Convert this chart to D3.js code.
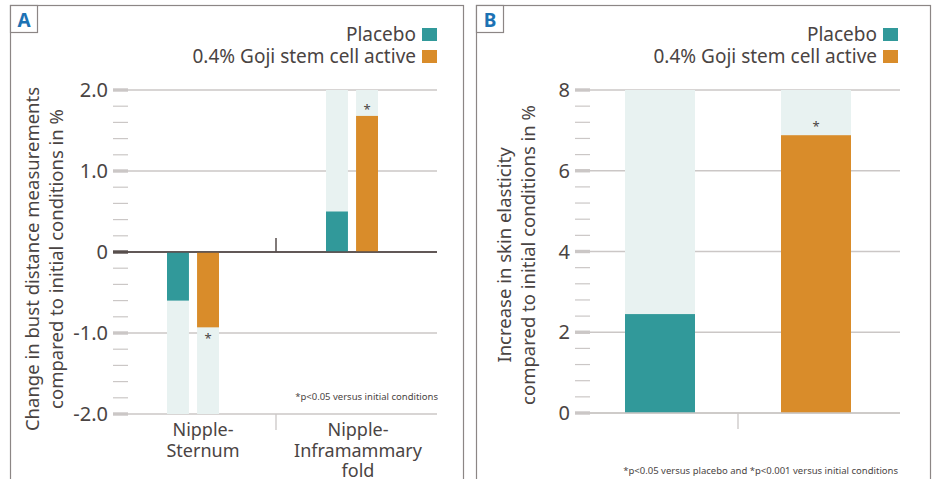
<!DOCTYPE html>
<html>
<head>
<meta charset="utf-8">
<script src="https://cdn.jsdelivr.net/npm/d3@7"></script>
<style>
  body { margin: 0; background: #fff; }
  svg text { font-family: "Noto Sans", "Open Sans", sans-serif; fill: #4a4443; }
</style>
</head>
<body>
<svg id="chart" width="938" height="479"></svg>
<script>
// ---- data ----
const seriesNames = ["Placebo", "0.4% Goji stem cell active"];
const seriesColors = ["#31999a", "#d98c2a"];

// Panel A: change in bust distance measurements (%)
const catsA = [["Nipple-", "Sternum"], ["Nipple-", "Inframammary", "fold"]];
const placeboA = [-0.6, 0.5];
const gojiA = [-0.93, 1.68];
const sigA = [[false, true], [false, true]];
const ticksA = [2, 1, 0, -1, -2];
const tickLabelsA = ["2.0", "1.0", "0", "-1.0", "-2.0"];
const footA = "*p<0.05 versus initial conditions";
const titleA = ["Change in bust distance measurements", "compared to initial conditions in %"];

// Panel B: increase in skin elasticity (%)
const catsB = ["Placebo", "Goji"];
const valuesB = [2.45, 6.88];
const sigB = [false, true];
const ticksB = [8, 6, 4, 2, 0];
const tickLabelsB = ["8", "6", "4", "2", "0"];
const footB = "*p<0.05 versus placebo and *p<0.001 versus initial conditions";
const titleB = ["Increase in skin elasticity", "compared to initial conditions in %"];

const svg = d3.select("#chart");
const GRID = "#cbc7c6", BG = "#e8f2f1", BORDER = "#8c8685", DARK = "#574e4c";

function panelFrame(x0, x1, letter) {
  svg.append("rect").attr("x", x0 + 0.5).attr("y", 5.5).attr("width", x1 - x0)
    .attr("height", 480).attr("fill", "none").attr("stroke", BORDER).attr("stroke-width", 1.2);
  svg.append("rect").attr("x", x0 + 0.5).attr("y", 5.5).attr("width", 27).attr("height", 27)
    .attr("fill", "#fff").attr("stroke", BORDER).attr("stroke-width", 1.2);
  svg.append("text").attr("x", x0 + 14).attr("y", 27).attr("text-anchor", "middle")
    .style("font-weight", "bold").style("font-size", "19px").style("fill", "#1c72b4")
    .text(letter);
}

function legend(rightX) {
  seriesNames.forEach((name, i) => {
    const y = 28 + i * 22;
    svg.append("rect").attr("x", rightX - 15).attr("y", y).attr("width", 15).attr("height", 13)
      .attr("fill", seriesColors[i]);
    svg.append("text").attr("x", rightX - 21).attr("y", y + 13).attr("text-anchor", "end")
      .style("font-size", "19px").text(name);
  });
}

function yAxis(y, tickX, values, labels, minorStep, gridX1, zeroDark) {
  const [lo, hi] = d3.extent(y.domain());
  const minors = d3.range(lo, hi + minorStep / 2, minorStep)
    .filter(v => !values.some(m => Math.abs(m - v) < 1e-6));
  // minor ticks
  svg.append("g").selectAll("line").data(minors).join("line")
    .attr("x1", tickX).attr("x2", tickX + 15)
    .attr("y1", d => y(d)).attr("y2", d => y(d))
    .attr("stroke", GRID).attr("stroke-width", 1.2);
  // grid lines
  svg.append("g").selectAll("line").data(values).join("line")
    .attr("x1", tickX + 15).attr("x2", gridX1)
    .attr("y1", d => y(d)).attr("y2", d => y(d))
    .attr("stroke", d => (zeroDark && d === 0) ? DARK : GRID)
    .attr("stroke-width", d => (zeroDark && d === 0) ? 1.6 : 1.3);
  // major ticks
  svg.append("g").selectAll("rect").data(values).join("rect")
    .attr("x", tickX).attr("width", 15).attr("y", d => y(d) - 1.7).attr("height", 3.4)
    .attr("fill", d => (zeroDark && d === 0) ? DARK : GRID);
  svg.append("g").selectAll("text").data(values).join("text")
    .attr("x", tickX - 5).attr("y", d => y(d) + 7).attr("text-anchor", "end")
    .style("font-size", "20px").text((d, i) => labels[i]);
}

function yTitle(lines, x0, cy) {
  lines.forEach((t, i) => {
    svg.append("text").attr("transform", `translate(${x0 + i * 24},${cy}) rotate(-90)`)
      .attr("text-anchor", "middle").style("font-size", "18.5px").text(t);
  });
}

// ================= Panel A =================
panelFrame(10, 463, "A");
legend(437);
const yA = d3.scaleLinear().domain([-2, 2]).range([414, 90]);
yAxis(yA, 113, ticksA, tickLabelsA, 0.2, 437, true);
yTitle(titleA, 39, 259);

const xA = d3.scaleBand().domain([0, 1]).range([120, 432]);
const groupOffsetA = [-5, -2];
const inner = d3.scaleBand().domain([0, 1]).range([-26, 26]).paddingInner(0.27);
const barsA = [];
catsA.forEach((c, ci) => {
  [placeboA[ci], gojiA[ci]].forEach((v, si) => {
    barsA.push({ ci, si, v, sig: sigA[ci][si] });
  });
});
const gA = svg.append("g");
barsA.forEach(b => {
  const x = xA(b.ci) + xA.bandwidth() / 2 + groupOffsetA[b.ci] + inner(b.si);
  const full = b.v < 0 ? -2 : 2;
  gA.append("rect").attr("x", x).attr("width", inner.bandwidth())
    .attr("y", Math.min(yA(0), yA(full))).attr("height", Math.abs(yA(full) - yA(0)))
    .attr("fill", BG);
  gA.append("rect").attr("x", x).attr("width", inner.bandwidth())
    .attr("y", Math.min(yA(0), yA(b.v))).attr("height", Math.abs(yA(b.v) - yA(0)))
    .attr("fill", seriesColors[b.si]);
  if (b.sig) {
    const ty = b.v < 0 ? yA(b.v) + 16 : yA(b.v) - 2;
    gA.append("text").attr("x", x + inner.bandwidth() / 2).attr("y", ty)
      .attr("text-anchor", "middle").style("font-size", "13px").text("*");
  }
});
// zero line drawn over the bar backgrounds
gA.append("line").attr("x1", 128).attr("x2", 437).attr("y1", yA(0)).attr("y2", yA(0))
  .attr("stroke", DARK).attr("stroke-width", 1.6);
// category separators
const sepA = xA(1);
gA.append("line").attr("x1", sepA).attr("x2", sepA).attr("y1", yA(0) - 14).attr("y2", yA(0))
  .attr("stroke", DARK).attr("stroke-width", 1.5);
gA.append("line").attr("x1", sepA).attr("x2", sepA).attr("y1", yA(-2)).attr("y2", yA(-2) + 16)
  .attr("stroke", GRID).attr("stroke-width", 1.3);
// category labels
const labelCx = [203, 358];
catsA.forEach((lines, ci) => {
  lines.forEach((t, li) => {
    svg.append("text").attr("x", labelCx[ci]).attr("y", 436 + li * 20.5)
      .attr("text-anchor", "middle").style("font-size", "18px").text(t);
  });
});
svg.append("text").attr("x", 438).attr("y", 400).attr("text-anchor", "end")
  .style("font-size", "9.5px").text(footA);

// ================= Panel B =================
panelFrame(476, 930, "B");
legend(898);
const yB = d3.scaleLinear().domain([0, 8]).range([413, 90]);
yAxis(yB, 575, ticksB, tickLabelsB, 0.4, 900, false);
yTitle(titleB, 511, 255);

const xB = d3.scaleBand().domain(catsB).range([582, 894]);
const bwB = 70;
const gB = svg.append("g");
catsB.forEach((c, i) => {
  const x = xB(c) + xB.bandwidth() / 2 - bwB / 2;
  gB.append("rect").attr("x", x).attr("width", bwB).attr("y", yB(8)).attr("height", yB(0) - yB(8))
    .attr("fill", BG);
  gB.append("rect").attr("x", x).attr("width", bwB).attr("y", yB(valuesB[i]))
    .attr("height", yB(0) - yB(valuesB[i])).attr("fill", seriesColors[i]);
  if (sigB[i]) {
    gB.append("text").attr("x", x + bwB / 2).attr("y", yB(valuesB[i]) - 4)
      .attr("text-anchor", "middle").style("font-size", "13px").text("*");
  }
});
gB.append("line").attr("x1", 590).attr("x2", 900).attr("y1", yB(0)).attr("y2", yB(0))
  .attr("stroke", GRID).attr("stroke-width", 1.3);
gB.append("line").attr("x1", xB(catsB[1])).attr("x2", xB(catsB[1]))
  .attr("y1", yB(0)).attr("y2", yB(0) + 16).attr("stroke", GRID).attr("stroke-width", 1.3);
svg.append("text").attr("x", 898).attr("y", 474).attr("text-anchor", "end")
  .style("font-size", "9.5px").text(footB);
</script>
</body>
</html>
